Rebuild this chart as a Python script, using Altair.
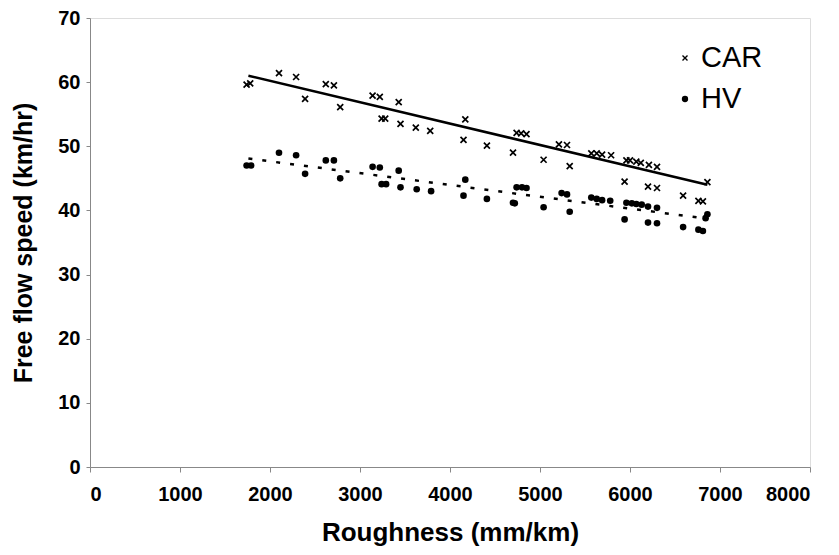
import altair as alt
import pandas as pd

# ---- data ----
car_x = [1740, 1780, 2100, 2290, 2390, 2620, 2710, 2780, 3140, 3220, 3240, 3280,
         3430, 3450, 3620, 3780, 4170, 4150, 4410, 4740, 4790, 4850, 4700, 5040,
         5210, 5300, 5330, 5570, 5630, 5690, 5790, 5960, 6000, 6070, 6120, 6210,
         6300, 5940, 6200, 6300, 6590, 6760, 6810, 6860]
car_y = [59.6, 59.8, 61.4, 60.8, 57.4, 59.7, 59.5, 56.1, 57.9, 57.7, 54.3, 54.3,
         56.9, 53.5, 52.9, 52.4, 54.2, 51.0, 50.1, 52.1, 52.0, 51.9, 49.0, 47.9,
         50.3, 50.2, 46.9, 48.9, 48.9, 48.7, 48.6, 47.8, 47.8, 47.6, 47.4, 47.1,
         46.8, 44.5, 43.7, 43.5, 42.3, 41.5, 41.4, 44.4]

hv_x = [1740, 1790, 2100, 2290, 2390, 2620, 2710, 2780, 3140, 3220, 3240, 3290,
        3430, 3450, 3630, 3790, 4170, 4150, 4410, 4740, 4800, 4850, 4700, 4720,
        5040, 5240, 5300, 5330, 5570, 5630, 5690, 5780, 5960, 6020, 6070, 6130,
        6200, 6300, 5940, 6200, 6300, 6590, 6760, 6810, 6860, 6840]
hv_y = [47.0, 47.0, 49.0, 48.6, 45.7, 47.8, 47.8, 45.0, 46.8, 46.7, 44.1, 44.1,
        46.2, 43.6, 43.3, 43.0, 44.8, 42.3, 41.8, 43.6, 43.6, 43.5, 41.2, 41.1,
        40.5, 42.7, 42.5, 39.8, 42.0, 41.8, 41.6, 41.5, 41.2, 41.1, 41.0, 40.9,
        40.6, 40.4, 38.6, 38.1, 38.0, 37.4, 37.0, 36.8, 39.4, 38.8]

# trend line end points
car_fit_x = [1760, 6860]
car_fit_y = [61.0, 44.0]
hv_fit_x = [1760, 6860]
hv_fit_y = [48.1, 38.7]

series_names = ["CAR", "HV"]
x_ticks = list(range(0, 8001, 1000))
y_ticks = list(range(0, 71, 10))

car_df = pd.DataFrame({"x": car_x, "y": car_y})
hv_df = pd.DataFrame({"x": hv_x, "y": hv_y})
car_fit = pd.DataFrame({"x": car_fit_x, "y": car_fit_y})
hv_fit = pd.DataFrame({"x": hv_fit_x, "y": hv_fit_y})

FONT = "Liberation Sans"

xs = alt.Scale(domain=[0, 8000], nice=False)
ys = alt.Scale(domain=[0, 70], nice=False)

X = alt.X("x:Q", scale=xs, axis=alt.Axis(
    title="Roughness (mm/km)", values=x_ticks, format="d",
    labelFontSize=20, labelFontWeight="bold", labelPadding=12,
    tickSize=5, titleFontSize=26, titleFontWeight="bold", titlePadding=15,
    grid=False))
Y = alt.Y("y:Q", scale=ys, axis=alt.Axis(
    title="Free flow speed (km/hr)", values=y_ticks,
    labelFontSize=20, labelFontWeight="bold", labelPadding=6,
    tickSize=4, titleFontSize=25, titleFontWeight="bold", titlePadding=21,
    grid=False))

XPATH = "M-1,-1L1,1M1,-1L-1,1"

car_pts = alt.Chart(car_df).mark_point(
    shape=XPATH, filled=False, color="black", strokeWidth=1.7, size=36, opacity=1
).encode(x=X, y=Y)

hv_pts = alt.Chart(hv_df).mark_point(
    shape="circle", filled=True, color="black", size=44, opacity=1
).encode(x=alt.X("x:Q", scale=xs), y=alt.Y("y:Q", scale=ys))

car_line = alt.Chart(car_fit).mark_line(color="black", strokeWidth=2.5).encode(
    x=alt.X("x:Q", scale=xs), y=alt.Y("y:Q", scale=ys))
hv_line = alt.Chart(hv_fit).mark_line(
    color="black", strokeWidth=2.5, strokeDash=[4, 10]).encode(
    x=alt.X("x:Q", scale=xs), y=alt.Y("y:Q", scale=ys))

# legend (manual, inside the plot at top right)
leg_car = pd.DataFrame({"label": [series_names[0]]})
leg_hv = pd.DataFrame({"label": [series_names[1]]})
lg_car_sym = alt.Chart(leg_car).mark_point(
    shape=XPATH, filled=False, color="black", strokeWidth=1.4, size=25, opacity=1
).encode(x=alt.value(595), y=alt.value(40))
lg_car_txt = alt.Chart(leg_car).mark_text(
    align="left", baseline="middle", fontSize=29, font=FONT, color="black"
).encode(x=alt.value(611), y=alt.value(40), text="label:N")
lg_hv_sym = alt.Chart(leg_hv).mark_point(
    shape="circle", filled=True, color="black", size=40, opacity=1
).encode(x=alt.value(595), y=alt.value(81))
lg_hv_txt = alt.Chart(leg_hv).mark_text(
    align="left", baseline="middle", fontSize=29, font=FONT, color="black"
).encode(x=alt.value(611), y=alt.value(81), text="label:N")

chart = alt.layer(
    car_line, hv_line, car_pts, hv_pts,
    lg_car_sym, lg_car_txt, lg_hv_sym, lg_hv_txt
).properties(
    width=720, height=449,
    autosize=alt.AutoSizeParams(type="none"),
    padding={"left": 82, "top": 10, "right": 21, "bottom": 88},
).configure_view(
    stroke="#666", strokeWidth=2
).configure_axis(
    labelFont=FONT, titleFont=FONT, labelColor="black", titleColor="black",
    domainColor="#777", domainWidth=2, tickColor="black", tickWidth=1.2
).configure(background="white")

chart.save("out.html", embed_options={"renderer": "svg", "actions": False})
